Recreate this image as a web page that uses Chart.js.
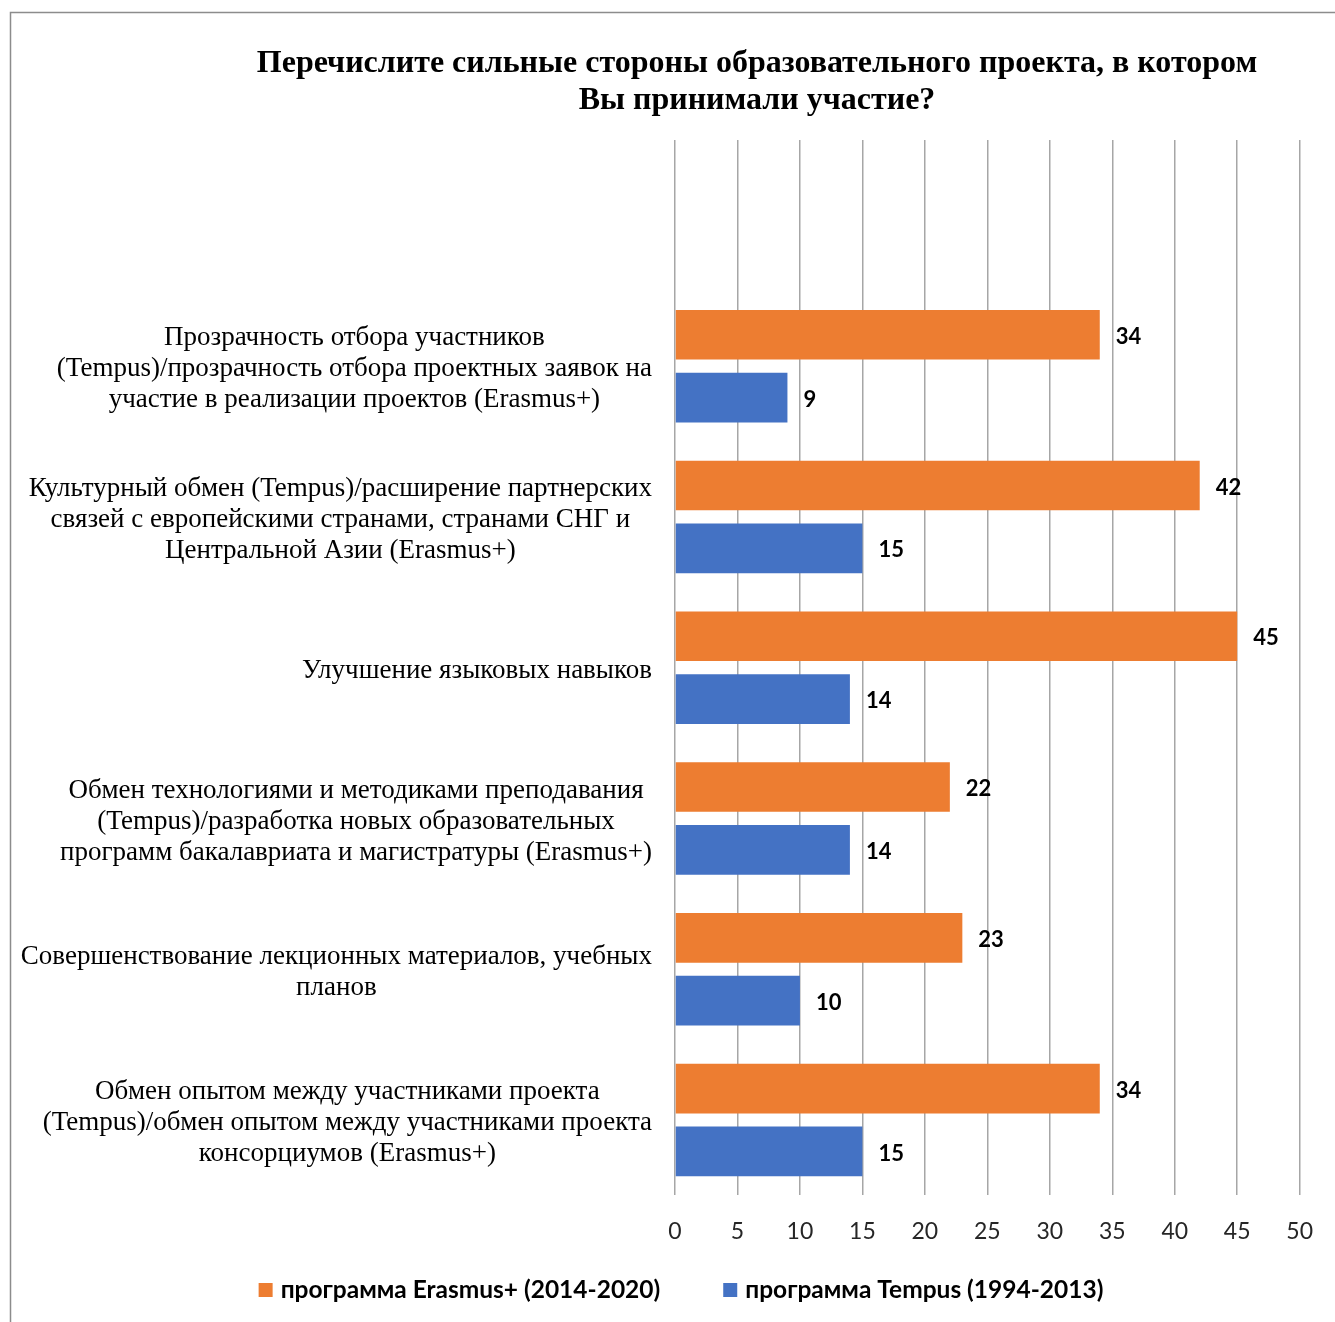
<!DOCTYPE html>
<html>
<head>
<meta charset="utf-8">
<script src="https://cdn.jsdelivr.net/npm/chart.js@4.4.0/dist/chart.umd.min.js"></script>
<style>
  html, body { margin: 0; padding: 0; background: #ffffff; }
  #wrap { width: 1335px; height: 1322px; position: relative; }
</style>
</head>
<body>
<div id="wrap"><canvas id="c" width="1335" height="1322"></canvas></div>
<script>
// ---- data ----
const titleLines = [
  "Перечислите сильные стороны образовательного проекта, в котором",
  "Вы принимали участие?"
];
const categories = [
  [""],
  ["Прозрачность отбора участников", "(Tempus)/прозрачность отбора проектных заявок на", "участие в реализации проектов (Erasmus+)"],
  ["Культурный обмен (Tempus)/расширение партнерских", "связей с европейскими странами, странами СНГ и", "Центральной Азии (Erasmus+)"],
  ["Улучшение языковых навыков"],
  ["Обмен технологиями и методиками преподавания", "(Tempus)/разработка новых образовательных", "программ бакалавриата и магистратуры (Erasmus+)"],
  ["Совершенствование лекционных материалов, учебных", "планов"],
  ["Обмен опытом между участниками проекта", "(Tempus)/обмен опытом между участниками проекта", "консорциумов (Erasmus+)"]
];
const seriesNames = ["программа Erasmus+ (2014-2020)", "программа Tempus (1994-2013)"];
const erasmusValues = [null, 34, 42, 45, 22, 23, 34];
const tempusValues  = [null, 9, 15, 14, 14, 10, 15];
const xTicks = [0, 5, 10, 15, 20, 25, 30, 35, 40, 45, 50];

const ORANGE = "#ED7D31";
const BLUE = "#4472C4";
const SERIF = "'Liberation Serif', 'Times New Roman', serif";
const SANS = "Lato, 'Liberation Sans', sans-serif";

const decor = {
  id: "decor",
  afterDraw(chart) {
    const ctx = chart.ctx;
    const ca = chart.chartArea;
    ctx.save();
    // outer border
    ctx.strokeStyle = "#8c8c8c";
    ctx.lineWidth = 1.5;
    ctx.beginPath();
    ctx.moveTo(10.5, chart.height + 5);
    ctx.lineTo(10.5, 12.5);
    ctx.lineTo(chart.width + 5, 12.5);
    ctx.stroke();

    // title
    ctx.fillStyle = "#000";
    ctx.font = "bold 32px " + SERIF;
    ctx.textAlign = "center";
    ctx.textBaseline = "middle";
    ctx.fillText(titleLines[0], 757, 64);
    ctx.fillText(titleLines[1], 757, 101);

    // category labels: block right-aligned, lines centred within block
    const ys = chart.scales.y;
    ctx.font = "27px " + SERIF;
    const rightEdge = ca.left - 23;
    const lh = 31;
    categories.forEach((lines, i) => {
      const y = ys.getPixelForTick(i) + 3;
      let w = 0;
      lines.forEach(l => { w = Math.max(w, ctx.measureText(l).width); });
      const cx = rightEdge - w / 2;
      const y0 = y - (lines.length - 1) * lh / 2;
      lines.forEach((l, k) => ctx.fillText(l, cx, y0 + k * lh));
    });

    // data labels
    ctx.font = "bold 22px " + SANS;
    ctx.textAlign = "left";
    chart.data.datasets.forEach((ds, di) => {
      const meta = chart.getDatasetMeta(di);
      meta.data.forEach((bar, j) => {
        const v = ds.data[j];
        if (v === null || v === undefined) return;
        ctx.fillText(String(v), bar.x + 16, bar.y + 2);
      });
    });

    // legend
    ctx.font = "bold 24.5px " + SANS;
    const ly = 1290;
    const box = 14, gapBox = 8, gapItem = 63;
    const widths = seriesNames.map(n => box + gapBox + ctx.measureText(n).width);
    const total = widths[0] + widths[1] + gapItem;
    let x = 681 - total / 2;
    [ORANGE, BLUE].forEach((col, i) => {
      ctx.fillStyle = col;
      ctx.fillRect(x, ly - box / 2, box, box);
      ctx.fillStyle = "#000";
      ctx.fillText(seriesNames[i], x + box + gapBox, ly);
      x += widths[i] + gapItem;
    });
    ctx.restore();
  }
};

new Chart(document.getElementById("c"), {
  type: "bar",
  data: {
    labels: categories,
    datasets: [
      { label: seriesNames[0], data: erasmusValues, backgroundColor: ORANGE, borderWidth: 0,
        categoryPercentage: 0.834, barPercentage: 0.79 },
      { label: seriesNames[1], data: tempusValues, backgroundColor: BLUE, borderWidth: 0,
        categoryPercentage: 0.834, barPercentage: 0.79 }
    ]
  },
  options: {
    indexAxis: "y",
    responsive: false,
    animation: false,
    devicePixelRatio: 1,
    layout: { padding: { top: 140, right: 34, bottom: 55, left: 0 } },
    plugins: {
      legend: { display: false },
      title: { display: false },
      tooltip: { enabled: false }
    },
    scales: {
      x: {
        min: 0, max: 50,
        afterBuildTicks: (s) => { s.ticks = xTicks.map(v => ({ value: v })); },
        grid: { color: "#a6a6a6", lineWidth: 1.5, drawTicks: false },
        border: { display: false },
        ticks: { font: { family: SANS, size: 23 }, color: "#262626", padding: 22 }
      },
      y: {
        afterFit: (s) => { s.width = 675; },
        grid: { display: false },
        border: { display: false },
        ticks: { display: false }
      }
    }
  },
  plugins: [decor]
});
</script>
</body>
</html>
